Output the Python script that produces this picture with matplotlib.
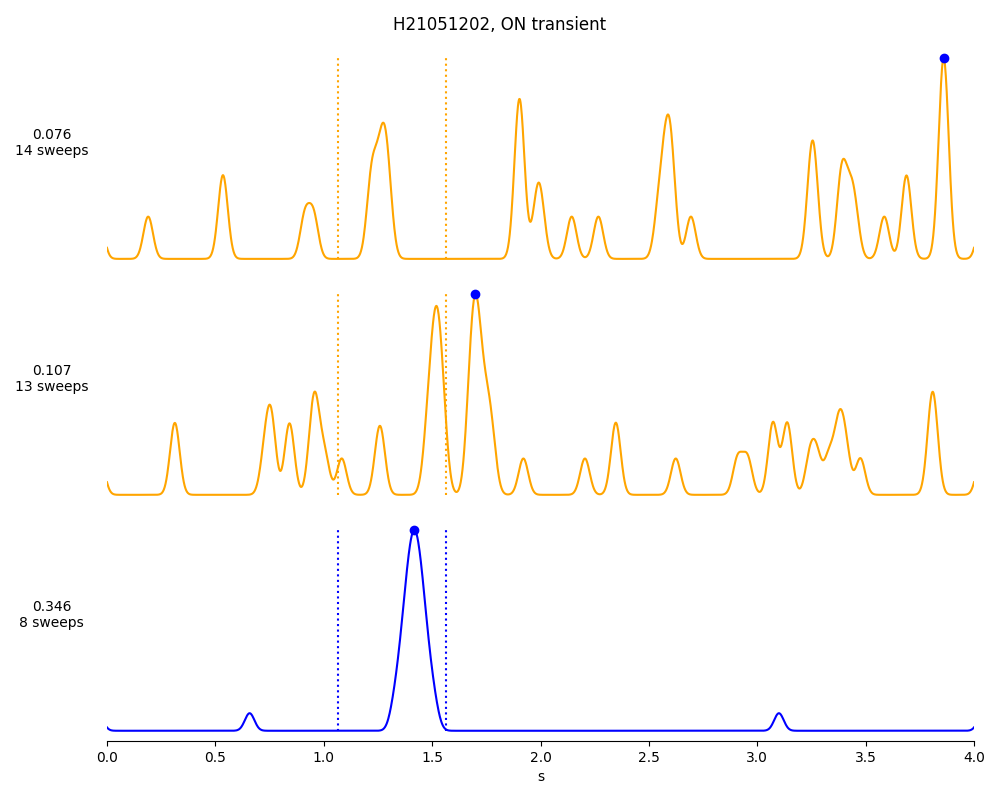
import numpy as np
import matplotlib
matplotlib.use("Agg")
import matplotlib.pyplot as plt

# spike times (s) pooled over sweeps, one list per panel
spikes_a = [-0.036, 0.19, 0.532, 0.538, 0.913, 0.953,
            1.215, 1.228, 1.255, 1.272, 1.284, 1.30,
            1.893, 1.90, 1.906, 1.913, 1.982, 2.002, 2.144, 2.267,
            2.545, 2.57, 2.585, 2.598, 2.608, 2.694,
            3.245, 3.256, 3.265, 3.386, 3.393, 3.425, 3.45, 3.586, 3.685, 3.692,
            3.85, 3.855, 3.86, 3.865, 3.87, 4.036]
spikes_b = [-0.032, 0.31, 0.316, 0.728, 0.755, 0.760, 0.838, 0.846,
            0.945, 0.957, 0.968, 1.005, 1.083, 1.252, 1.266,
            1.475, 1.493, 1.505, 1.515, 1.522, 1.53, 1.54, 1.555,
            1.672, 1.678, 1.69, 1.70, 1.706, 1.71, 1.725, 1.742, 1.76, 1.778,
            1.921, 2.205, 2.345, 2.35, 2.624, 2.91, 2.955,
            3.07, 3.075, 3.135, 3.142, 3.243, 3.275, 3.33, 3.37, 3.385, 3.41,
            3.476, 3.80, 3.81, 3.818, 4.032]
spikes_c = [-0.04, 0.658,
            1.323, 1.343, 1.355, 1.365, 1.372, 1.379, 1.385, 1.390, 1.395,
            1.401, 1.405, 1.409, 1.414, 1.418, 1.422, 1.427, 1.431, 1.435,
            1.441, 1.446, 1.451, 1.457, 1.464, 1.471, 1.481, 1.493, 1.513,
            3.10, 4.04]

panel_spikes = [spikes_a, spikes_b, spikes_c]
panel_labels = ["0.076\n14 sweeps", "0.107\n13 sweeps", "0.346\n8 sweeps"]
panel_colors = ["orange", "orange", "blue"]
window = [1.065, 1.565]

SIGMA = 0.022
t = np.linspace(0, 4, 2001)

fig, axes = plt.subplots(3, 1, figsize=(10, 8), sharex=True)
fig.subplots_adjust(left=0.107, right=0.974, top=0.94, bottom=0.074, hspace=0.068)
fig.suptitle("H21051202, ON transient")

for ax, sp, lab, col in zip(axes, panel_spikes, panel_labels, panel_colors):
    sp = np.asarray(sp)
    dens = np.exp(-(t[:, None] - sp[None, :]) ** 2 / (2 * SIGMA ** 2)).sum(axis=1)
    ax.plot(t, dens, color=col, lw=1.5)
    ax.vlines(window, 0, dens.max(), colors=col, linestyles=":", lw=1.5)
    i = np.argmax(dens)
    ax.plot(t[i], dens[i], "o", color="blue")
    ax.set_ylabel(lab, rotation=0, ha="center", va="bottom", fontsize=10)
    ax.yaxis.set_label_coords(-0.064, 0.5)
    ax.set_yticks([])
    for s in ["top", "right", "left"]:
        ax.spines[s].set_visible(False)

for ax in axes[:2]:
    ax.spines["bottom"].set_visible(False)
    ax.tick_params(axis="x", bottom=False, labelbottom=False)

axes[-1].set_xlim(0, 4)
axes[-1].set_xlabel("s")

fig.savefig("out.png", dpi=100)
